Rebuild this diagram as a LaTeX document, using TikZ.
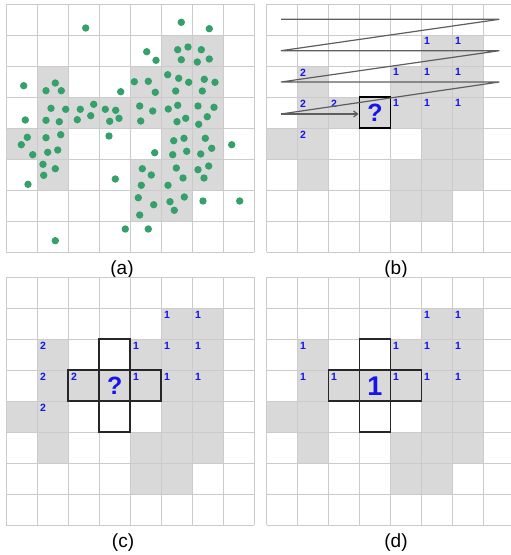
\documentclass[tikz,border=0pt]{standalone}
\usepackage{fontspec}
\setmainfont{Liberation Sans}
\usetikzlibrary{arrows.meta,calc}

\definecolor{cellgray}{HTML}{D9D9D9}
\definecolor{gridgray}{HTML}{CBCBCB}
\definecolor{dotgreen}{RGB}{52,160,106}
\definecolor{numblue}{RGB}{20,20,235}
\definecolor{scangray}{HTML}{5E5E5E}
\definecolor{boxdark}{HTML}{262626}

\tikzset{
  gridline/.style={draw=gridgray,line width=0.9pt},
  occupied/.style={fill=cellgray},
  sample/.style={fill=dotgreen},
  numlbl/.style={text=numblue,anchor=north west,inner sep=0pt,
    font=\bfseries\fontsize{10.5}{12}\selectfont},
  bigmark/.style={text=numblue,inner sep=0pt,
    font=\bfseries\fontsize{25}{28}\selectfont},
  bigone/.style={text=numblue,inner sep=0pt,
    font=\bfseries\fontsize{27}{30}\selectfont},
  querybox/.style={draw=black,line width=1.9pt,minimum size=31pt,inner sep=0pt},
  crossbox/.style={draw=boxdark,line width=1.7pt,minimum size=31pt,inner sep=0pt},
  scanline/.style={draw=scangray,line width=1.2pt},
  caption/.style={anchor=base,inner sep=0pt,font=\fontsize{19}{21}\selectfont}
}

% occupied cells of the 8x8 grid (column/row, rows counted from the top)
\def\occupiedcells{5/1,6/1,1/2,4/2,5/2,6/2,1/3,2/3,3/3,4/3,5/3,6/3,0/4,1/4,5/4,6/4,1/5,4/5,5/5,6/5,4/6,5/6}

\newcommand\gridpanel{%
  \foreach \i/\j in \occupiedcells {\fill[occupied] (31*\i,31*\j) rectangle ++(31,31);}
  \foreach \k in {0,...,8} {
    \draw[gridline] (31*\k,0) -- (31*\k,248);
    \draw[gridline] (0,31*\k) -- (248,31*\k);
  }}

\begin{document}
\begin{tikzpicture}[x=1pt,y=-1pt]
\useasboundingbox (0,0) rectangle (511,555);
\fill[white] (0,0) rectangle (511,555);

% ---------------- (a) occupancy grid with sample points ----------------
\begin{scope}[shift={(6.3,4)}]
  \gridpanel
\end{scope}
\foreach \x/\y in {
  85.7/28, 181.3/22.3, 209.3/28.7,
  146.7/51.7, 156/60.3, 177.7/49.7, 188/47, 201.3/49.7, 181.3/59.7, 197.3/62, 209.3/59,
  23.7/85.7, 55.3/83, 46/90.7, 61.3/90.7, 120.7/91.7,
  134.3/81.7, 148.3/81.3, 155.3/92.3, 167.7/74.7, 178.7/78.3, 188.7/82.3, 175.7/91,
  204.3/79.3, 215/82.3, 202.3/91,
  25.3/120, 51/108.3, 65.7/109.3, 46/120.3, 59.3/121.7, 80.3/109.3, 93.7/104.3,
  77.3/119.7, 90.7/115.7, 105.3/109.3, 115.7/110.3, 109.7/121.3, 119/118.3,
  139.7/106, 152.7/111, 140.7/121, 168.3/109, 177.7/105.3, 185.7/118.3, 177/121.7,
  198/106, 214/107.3, 207.3/116.7, 198.7/124.3,
  27.3/137.3, 21.3/144.7, 32.7/154.7, 46/137.7, 60.7/134.7, 47.7/152.3, 57.7/150, 109/136,
  43/164.3, 55.3/168.7, 43.7/175.3, 28/184.3, 115.3/179,
  173.7/140.7, 184/138.3, 205.3/138.3, 211.7/148.3, 186.7/151.3, 172.7/154.7,
  200.7/154, 154.7/152.7, 231.7/144.7,
  142.3/168.7, 151.3/175, 141.3/185.3, 176.3/168, 183/178, 168/185.3,
  198/169.7, 208.7/166, 204/178,
  138.3/197.7, 153.7/204.7, 139.7/215, 170/201.7, 184.3/197, 174.3/210.3,
  203/201, 239.7/201,
  125.3/229, 148.3/229, 55.3/240.7}
  {\fill[sample] (\x,\y) circle[radius=3.7pt];}
\node[caption] (cap-a) at (122,274) {(a)};

% ---------------- (b) raster scan towards the query cell ----------------
\begin{scope}[shift={(266.5,4)}]
  \gridpanel
  \foreach \i/\j/\t in {5/1/1,6/1/1,1/2/2,4/2/1,5/2/1,6/2/1,1/3/2,2/3/2,4/3/1,5/3/1,6/3/1,1/4/2}
    {\node[numlbl] (b-\i-\j) at (31*\i+2.5,31*\j+2.5) {\t};}
  \node[querybox] (bq) at (108.5,108.5) {};
  \node[bigmark] (bq-mark) at (bq.center) {?};
\end{scope}
\coordinate (s0) at (281,19.3);
\coordinate (s1) at (499.3,19.3);
\coordinate (s2) at (281,50.7);
\coordinate (s3) at (499.3,50.7);
\coordinate (s4) at (281,82);
\coordinate (s5) at (499.3,82);
\coordinate (s6) at (281,114);
\draw[scanline] (s0) -- (s1) -- (s2) -- (s3) -- (s4) -- (s5) -- (s6);
\draw[scanline,-{Straight Barb[length=4pt,width=6pt]}] (s6) -- (s6 -| bq.west);
\node[caption] (cap-b) at (396,274) {(b)};

% ---------------- (c) neighbourhood of the query cell ----------------
\begin{scope}[shift={(6.3,277.3)}]
  \gridpanel
  \foreach \i/\j/\t in {5/1/1,6/1/1,1/2/2,4/2/1,5/2/1,6/2/1,1/3/2,2/3/2,4/3/1,5/3/1,6/3/1,1/4/2}
    {\node[numlbl] (c-\i-\j) at (31*\i+2.5,31*\j+2.5) {\t};}
  \node[crossbox] (c-up) at (108.5,77.5) {};
  \node[crossbox] (c-left) at (77.5,108.5) {};
  \node[crossbox] (c-right) at (139.5,108.5) {};
  \node[crossbox] (c-down) at (108.5,139.5) {};
  \node[crossbox] (c-mid) at (108.5,108.5) {};
  \node[bigmark] (c-mark) at (c-mid.center) {?};
\end{scope}
\node[caption] (cap-c) at (123,547) {(c)};

% ---------------- (d) merged labels ----------------
\begin{scope}[shift={(266.5,277.3)}]
  \gridpanel
  \foreach \i/\j in {5/1,6/1,1/2,4/2,5/2,6/2,1/3,2/3,4/3,5/3,6/3}
    {\node[numlbl] (d-\i-\j) at (31*\i+2.5,31*\j+2.5) {1};}
  \node[crossbox] (d-up) at (108.5,77.5) {};
  \node[crossbox] (d-left) at (77.5,108.5) {};
  \node[crossbox] (d-right) at (139.5,108.5) {};
  \node[crossbox] (d-down) at (108.5,139.5) {};
  \node[crossbox] (d-mid) at (108.5,108.5) {};
  \node[bigone] (d-mark) at (d-mid.center) {1};
\end{scope}
\node[caption] (cap-d) at (396,547) {(d)};
\end{tikzpicture}
\end{document}
